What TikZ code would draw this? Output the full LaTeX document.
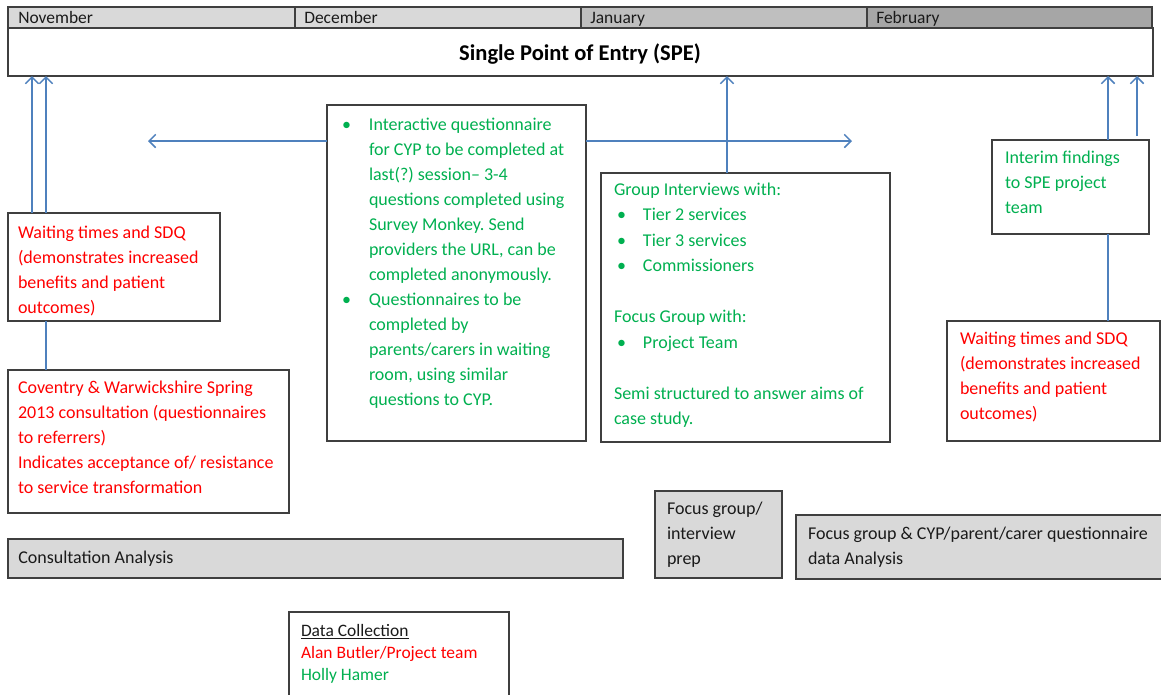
\documentclass[tikz,border=0pt]{standalone}
\usepackage{fontspec}
\setmainfont{Carlito}
\frenchspacing
\usetikzlibrary{arrows.meta,calc}
\definecolor{boxline}{HTML}{3F3F3F}
\definecolor{lgray}{HTML}{D9D9D9}
\definecolor{jgray}{HTML}{BFBFBF}
\definecolor{fgray}{HTML}{A6A6A6}
\definecolor{myred}{HTML}{FF0000}
\definecolor{mygreen}{HTML}{00B050}
\definecolor{myblue}{HTML}{4F81BD}
\definecolor{txtblack}{HTML}{1A1A1A}
\newdimen\PX \PX=0.75pt
\newcommand{\mainsz}{\fontsize{13.5pt}{18.75pt}\selectfont}
\newcommand{\titlesz}{\fontsize{16.9pt}{20pt}\selectfont}
\newcommand{\datasz}{\fontsize{13.1pt}{16.5pt}\selectfont}
\newcommand{\monthsz}{\fontsize{13.1pt}{15pt}\selectfont}
\newcommand{\bul}[2]{\makebox[#1][l]{\hspace*{#2}\textbullet}}
\newcommand{\ind}[1]{\hspace*{#1}}
\newcommand{\lines}[1]{\begin{tabular}{@{}l@{}}#1\end{tabular}}
\begin{document}
\begin{tikzpicture}[x=0.75pt,y=-0.75pt,
  box/.style={draw=boxline, line width=1pt, fill=white, inner sep=0pt, outer sep=0pt, anchor=north west},
  gbox/.style={box, fill=lgray},
  mcell/.style={box, minimum height=21\PX},
  mtxt/.style={inner sep=0pt, anchor=base west, font=\monthsz, text=txtblack},
  txt/.style={inner sep=0pt, outer sep=0pt, anchor=north west, font=\mainsz},
  arr/.style={draw=myblue, line width=1.1pt, -{Straight Barb[length=5pt,width=10pt]}},
  conn/.style={draw=myblue, line width=1.1pt}]
\useasboundingbox (0,0) rectangle (1161,694);
\clip (0,0) rectangle (1161,694);
\fill[white] (0,0) rectangle (1161,694);

% header months
\node[mcell, fill=lgray, minimum width=287\PX] (nov) at (8,7) {};
\node[mcell, fill=lgray, minimum width=286\PX] (dec) at (nov.north east) {};
\node[mcell, fill=jgray, minimum width=286\PX] (jan) at (dec.north east) {};
\node[mcell, fill=fgray, minimum width=285\PX] (feb) at (jan.north east) {};
\node[mtxt] (novt) at (18,23.5) {November};
\node[mtxt] (dect) at (304,23.5) {December};
\node[mtxt] (jant) at (590,23.5) {January};
\node[mtxt] (febt) at (876,23.5) {February};

% SPE
\node[box, minimum width=1145\PX, minimum height=48\PX] (spe) at (8,28) {};
\node[inner sep=0pt, font=\titlesz\bfseries, text=black] (spet) at (580,54) {Single Point of Entry (SPE)};

% left boxes
\node[box, minimum width=212\PX, minimum height=108\PX] (wl) at (8,213) {};
\node[txt, text=myred] (wlt) at (18,220.5) {\lines{Waiting times and SDQ\\(demonstrates increased\\benefits and patient\\outcomes)}};

\node[box, minimum width=281\PX, minimum height=143\PX] (cov) at (8,370) {};
\node[txt, text=myred] (covt) at (18,375.5) {\lines{Coventry \& Warwickshire Spring\\2013 consultation (questionnaires\\to referrers)\\Indicates acceptance of/ resistance\\to service transformation}};

% middle box
\node[box, minimum width=259\PX, minimum height=336\PX] (mid) at (327,105) {};
\node[txt, text=mygreen] (midt) at (342,112.5) {\lines{%
\bul{27\PX}{0pt}Interactive questionnaire\\
\ind{27\PX}for CYP to be completed at\\
\ind{27\PX}last(?) session– 3-4\\
\ind{27\PX}questions completed using\\
\ind{27\PX}Survey Monkey. Send\\
\ind{27\PX}providers the URL, can be\\
\ind{27\PX}completed anonymously.\\
\bul{27\PX}{0pt}Questionnaires to be\\
\ind{27\PX}completed by\\
\ind{27\PX}parents/carers in waiting\\
\ind{27\PX}room, using similar\\
\ind{27\PX}questions to CYP.}};

% group box
\node[box, minimum width=289\PX, minimum height=269\PX] (grp) at (601,173) {};
\node[txt, text=mygreen] (grpt) at (614,177.5) {\renewcommand{\arraystretch}{1.02}\lines{%
Group Interviews with:\\
\bul{29\PX}{3\PX}Tier 2 services\\
\bul{29\PX}{3\PX}Tier 3 services\\
\bul{29\PX}{3\PX}Commissioners\\
\mbox{}\\
Focus Group with:\\
\bul{29\PX}{3\PX}Project Team\\
\mbox{}\\
Semi structured to answer aims of\\
case study.}};

% right boxes
\node[box, minimum width=157\PX, minimum height=94\PX] (int) at (992,140) {};
\node[txt, text=mygreen] (intt) at (1005,145.5) {\lines{Interim findings\\to SPE project\\team}};

\node[box, minimum width=213\PX, minimum height=120\PX] (wr) at (947,321) {};
\node[txt, text=myred] (wrt) at (960,326.5) {\lines{Waiting times and SDQ\\(demonstrates increased\\benefits and patient\\outcomes)}};

% gray bars
\node[gbox, minimum width=615\PX, minimum height=39\PX] (cons) at (8,539) {};
\node[inner sep=0pt, anchor=base west, font=\mainsz, text=txtblack] (const) at (18,563) {Consultation Analysis};

\node[gbox, minimum width=127\PX, minimum height=87\PX] (fprep) at (655,491) {};
\node[txt, text=txtblack] (fprept) at (667,496.5) {\lines{Focus group/\\interview\\prep}};

\node[gbox, minimum width=370\PX, minimum height=64\PX] (fdata) at (796,515) {};
\node[txt, text=txtblack] (fdatat) at (808,521.5) {\lines{Focus group \& CYP/parent/carer questionnaire\\data Analysis}};

% data collection
\node[box, minimum width=220\PX, minimum height=100\PX] (dcol) at (289,612) {};
\node[txt, font=\datasz] (dcolt) at (301,620.6) {\lines{\textcolor{txtblack}{\underline{Data Collection}}\\\textcolor{myred}{Alan Butler/Project team}\\\textcolor{mygreen}{Holly Hamer}}};

% connectors
\draw[arr] ($(wl.north west)+(24,0)$) coordinate (a1) -- (a1 |- spe.south);
\draw[arr] ($(wl.north west)+(38,0)$) coordinate (a2) -- (a2 |- spe.south);
\draw[conn] ($(wl.south west)+(38,0)$) coordinate (a3) -- (a3 |- cov.north);

\coordinate (mL) at (148,141);
\coordinate (mR) at (852,141);
\draw[arr] (mid.west |- mL) -- (mL);
\draw[arr] (mid.east |- mR) -- (mR);

\draw[arr] ($(grp.north west)+(126,0)$) coordinate (g1) -- (g1 |- spe.south);

\draw[arr] ($(int.north west)+(116,0)$) coordinate (i1) -- (i1 |- spe.south);
\draw[arr] ($(int.north west)+(145,-4)$) coordinate (i2) -- (i2 |- spe.south);
\draw[conn] ($(int.south west)+(116,0)$) coordinate (i3) -- (i3 |- wr.north);
\end{tikzpicture}
\end{document}
